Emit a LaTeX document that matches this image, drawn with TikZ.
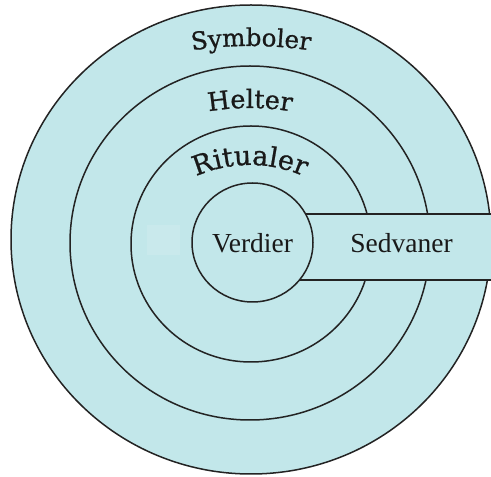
\documentclass[tikz,border=0pt]{standalone}
\usepackage{fontspec}
\setmainfont{Liberation Serif}
\newfontfamily\slabfont[FakeBold=0.8]{DejaVu Serif}
\usetikzlibrary{decorations.text}
\definecolor{ringfill}{RGB}{194,231,234}
\definecolor{ringline}{RGB}{35,35,35}
\definecolor{paler}{RGB}{201,233,236}
\newcommand\fsym{\slabfont\fontsize{24.5}{26}\selectfont}
\newcommand\fhel{\slabfont\fontsize{25.5}{27}\selectfont}
\newcommand\frit{\slabfont\fontsize{27}{29}\selectfont}
\begin{document}
\begin{tikzpicture}[x=1pt,y=1pt,
  ring/.style={fill=ringfill, draw=ringline, line width=1.5pt},
  lbl/.style={font=\fontsize{27.5}{30}\selectfont, text=black!90, inner sep=0pt},
  arctext/.style={decorate, decoration={text along path, text align=center, text color=black!90, text={#1}}}
]
\useasboundingbox (0,0) rectangle (491,477);
\clip (0,0) rectangle (491,477);
\fill[white] (0,0) rectangle (491,477);
% rings
\path[ring] (251,237.5) ellipse [x radius=240, y radius=234.5];
\path[ring] (250,234) ellipse [x radius=180, y radius=177];
\path[ring] (251,233) ellipse [x radius=120, y radius=118];
% band to the right
\path[ring] (270,197) rectangle (500,263);
% faint patch
\fill[paler] (147,222) rectangle (180,252);
% core
\path[ring] (252.5,234.5) ellipse [x radius=60.5, y radius=59.5];
\node[lbl] (verdier) at (252.5,234) {Verdier};
\node[lbl] (sedvaner) at (401.5,234) {Sedvaner};
% curved labels
\coordinate (symc) at (251,31);
\coordinate (helc) at (250,119);
\coordinate (ritc) at (250,178);
\path[arctext={|\fsym|Symboler}] (symc) ++(104:400) arc[start angle=104, end angle=76, radius=400];
\path[arctext={|\fhel|Helter}] (helc) ++(110:250) arc[start angle=110, end angle=70, radius=250];
\path[arctext={|\frit|Ritualer}] (ritc) ++(140:134) arc[start angle=140, end angle=40, radius=134];
\end{tikzpicture}
\end{document}
